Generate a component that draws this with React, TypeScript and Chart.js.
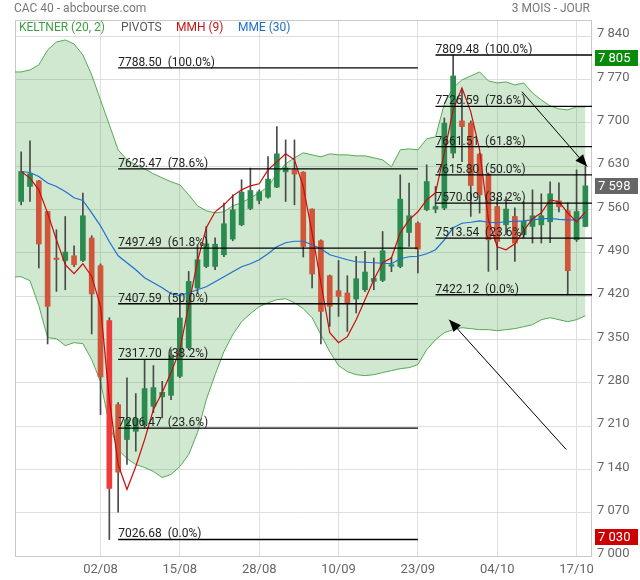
import React, { useEffect, useRef } from 'react';
import { Chart, registerables } from 'chart.js';

Chart.register(...registerables);

// ---- categories (trading days) ----
const dates = ['22/07','23/07','24/07','25/07','26/07','29/07','30/07','31/07','01/08','02/08','05/08','06/08','07/08','08/08','09/08','12/08','13/08','14/08','15/08','16/08','19/08','20/08','21/08','22/08','23/08','26/08','27/08','28/08','29/08','30/08','02/09','03/09','04/09','05/09','06/09','09/09','10/09','11/09','12/09','13/09','16/09','17/09','18/09','19/09','20/09','23/09','24/09','25/09','26/09','27/09','30/09','01/10','02/10','03/10','04/10','07/10','08/10','09/10','10/10','11/10','14/10','15/10','16/10','17/10','18/10'];
const xTickLabels = ['02/08','15/08','28/08','10/09','23/09','04/10','17/10'];
const yTicks = [7000,7070,7140,7210,7280,7350,7420,7490,7560,7630,7700,7770,7840];

// ---- OHLC ----
const opens = [7572.8,7597.0,7606.2,7556.6,7481.0,7477.5,7485.1,7477.5,7513.7,7469.0,7380.2,7244.6,7188.1,7201.5,7212.3,7241.9,7257.1,7259.6,7290.3,7336.1,7433.0,7467.8,7467.8,7486.7,7512.1,7535.1,7561.5,7574.4,7579.9,7596.0,7620.7,7623.9,7620.2,7560.5,7509.3,7452.8,7428.6,7424.9,7415.2,7430.2,7443.6,7445.3,7468.2,7467.8,7522.7,7537.9,7559.4,7560.5,7562.1,7650.9,7703.0,7699.3,7649.3,7617.0,7564.7,7535.1,7548.6,7519.0,7532.4,7535.1,7540.0,7573.9,7557.7,7510.9,7532.4];
const highs = [7653.0,7670.7,7607.0,7557.0,7527.1,7548.5,7501.3,7586.3,7517.4,7472.0,7385.0,7248.0,7287.7,7262.4,7317.3,7307.6,7282.2,7333.4,7422.0,7459.8,7502.9,7532.4,7514.2,7570.2,7583.6,7607.8,7626.7,7591.6,7645.4,7693.8,7672.3,7672.3,7621.0,7561.0,7511.0,7454.0,7477.5,7452.8,7484.0,7492.1,7481.4,7524.3,7481.9,7615.8,7602.5,7540.0,7632.0,7597.0,7707.8,7809.48,7753.0,7703.0,7651.0,7619.0,7578.2,7580.8,7562.6,7572.8,7591.6,7585.2,7604.6,7602.9,7570.7,7623.9,7629.3];
const lows = [7567.4,7572.8,7465.3,7342.6,7427.5,7430.2,7467.4,7475.4,7358.7,7228.5,7026.68,7070.8,7147.8,7169.3,7207.5,7231.7,7223.2,7252.7,7288.2,7333.4,7425.4,7465.7,7462.5,7483.5,7509.3,7533.5,7559.4,7569.0,7578.2,7594.9,7572.8,7567.4,7483.0,7433.0,7342.6,7371.0,7387.1,7362.9,7392.6,7426.9,7430.2,7443.2,7459.3,7465.7,7500.1,7457.2,7557.7,7554.5,7559.4,7643.3,7637.3,7548.6,7554.0,7459.8,7462.5,7519.0,7475.9,7514.2,7505.6,7505.6,7506.1,7556.1,7422.12,7508.2,7531.9];
const closes = [7621.2,7617.5,7504.0,7403.3,7479.0,7491.1,7470.6,7549.7,7423.3,7289.3,7109.1,7135.4,7220.4,7222.0,7270.5,7272.1,7264.5,7323.7,7384.6,7443.6,7478.7,7504.5,7503.7,7536.8,7559.4,7587.9,7590.5,7588.4,7608.9,7649.7,7627.1,7617.0,7500.1,7455.6,7395.2,7403.3,7419.4,7407.6,7448.0,7458.8,7448.5,7493.2,7469.8,7576.6,7549.7,7495.9,7605.0,7564.7,7699.3,7775.6,7693.8,7598.6,7583.6,7510.9,7508.2,7560.5,7505.6,7540.5,7549.7,7549.7,7585.2,7564.2,7460.9,7556.6,7598.0];

// ---- indicators ----
const mmh9 = [7621.2,7610.5,7591.6,7554.0,7510.9,7470.6,7456.1,7472.2,7451.7,7403.3,7252.7,7147.8,7107.4,7144.6,7188.1,7236.6,7264.0,7296.3,7333.0,7405.0,7476.0,7530.3,7556.1,7567.4,7581.9,7591.6,7598.1,7601.3,7623.9,7636.8,7649.7,7640.1,7596.5,7522.2,7441.5,7360.8,7344.7,7354.4,7381.8,7414.1,7446.4,7473.8,7481.9,7522.2,7543.2,7556.1,7575.5,7586.8,7651.4,7720.8,7756.3,7717.5,7656.2,7543.2,7499.6,7494.8,7504.5,7525.5,7544.8,7554.5,7575.5,7572.3,7554.5,7540.0,7556.1];
const mme30 = [7621.2,7619.6,7613.1,7602.5,7597.0,7588.9,7578.7,7574.4,7554.5,7533.5,7507.7,7485.1,7473.8,7462.5,7449.6,7441.5,7433.5,7423.8,7420.6,7425.4,7430.2,7435.1,7443.2,7451.2,7459.2,7467.4,7472.2,7478.7,7488.4,7499.6,7506.1,7508.5,7508.5,7502.9,7496.4,7486.7,7482.7,7478.7,7475.4,7474.6,7473.8,7473.0,7472.2,7480.3,7483.5,7484.3,7488.4,7494.8,7510.9,7530.3,7537.6,7539.2,7541.6,7539.2,7538.4,7540.0,7540.8,7541.6,7543.2,7544.8,7545.6,7544.0,7543.2,7543.2,7548.5];
// Keltner bands: first value belongs to the session before 22/07
const keltnerUpper = [7782.0,7782.1,7785.3,7793.4,7817.6,7830.5,7833.7,7827.3,7809.5,7777.3,7736.9,7696.6,7656.2,7640.1,7632.0,7625.5,7617.5,7611.0,7604.6,7599.7,7583.6,7565.8,7557.7,7554.5,7556.1,7565.8,7570.7,7578.7,7586.8,7596.5,7617.5,7633.6,7643.3,7651.4,7648.1,7644.9,7649.7,7648.1,7648.1,7646.5,7646.5,7643.3,7640.1,7628.8,7656.2,7657.8,7656.2,7674.0,7677.2,7730.4,7756.3,7769.2,7775.6,7782.1,7767.6,7764.3,7765.9,7761.1,7764.3,7748.2,7736.9,7727.2,7722.4,7720.8,7725.6,7725.6];
const keltnerLower = [7451.0,7451.2,7444.8,7404.4,7352.8,7351.2,7339.9,7344.7,7343.1,7317.3,7281.8,7212.3,7172.0,7157.5,7147.8,7143.0,7136.5,7126.8,7131.7,7144.6,7163.9,7199.4,7252.7,7293.0,7330.2,7357.6,7378.6,7391.5,7402.8,7409.2,7414.1,7415.7,7409.2,7399.6,7385.0,7357.6,7330.2,7307.6,7297.9,7293.0,7291.4,7293.0,7296.3,7299.5,7302.7,7304.3,7309.2,7333.4,7349.5,7360.8,7365.7,7368.9,7367.3,7365.7,7365.7,7364.1,7365.7,7367.3,7370.5,7373.7,7381.8,7385.0,7381.8,7378.6,7381.8,7388.3];

// ---- Fibonacci retracements (pivots) ----
const fibPercents = ['100.0%','78.6%','61.8%','50.0%','38.2%','23.6%','0.0%'];
const fibLeftLevels = [7788.50,7625.47,7497.49,7407.59,7317.70,7206.47,7026.68];
const fibRightLevels = [7809.48,7726.59,7661.51,7615.80,7570.09,7513.54,7422.12];
const fibLeftSpan = [11, 45];
const fibRightSpan = [47, 64.75];

// ---- drawn arrows: [x0, y0, x1, y1] in (session index, price) ----
const arrows = [
  [56.8, 7750.3, 64.2, 7629.2],
  [61.83, 7172.0, 48.55, 7381.8],
];

// ---- price markers on the right axis ----
const markerValues = [7805, 7598, 7030];
const markerColors = ['#0a8a0a', '#666666', '#cc0000'];

const FONT = 'Roboto, "Noto Sans", sans-serif';
const fmt = (v: number) => String(Math.round(v)).replace(/\B(?=(\d{3})+(?!\d))/g, ' ');

export default function App() {
  const ref = useRef<HTMLCanvasElement>(null);

  useEffect(() => {
    const canvas = ref.current;
    if (!canvas) return;

    const minLowIdx = lows.indexOf(Math.min(...lows));
    const bodyColors = dates.map((_, i) =>
      i === minLowIdx ? '#ee3b3b' : closes[i] >= opens[i] ? '#2b8a4f' : '#d0553a'
    );

    const datasets: any[] = [];
    datasets.push({
      type: 'line',
      data: keltnerUpper.map((v, i) => ({ x: i - 1, y: v })),
      borderColor: '#55a955',
      borderWidth: 1,
      pointRadius: 0,
      fill: '+1',
      backgroundColor: 'rgba(70,165,70,0.26)',
      order: 10,
    });
    datasets.push({
      type: 'line',
      data: keltnerLower.map((v, i) => ({ x: i - 1, y: v })),
      borderColor: '#55a955',
      borderWidth: 1,
      pointRadius: 0,
      fill: false,
      order: 10,
    });
    datasets.push({
      type: 'bar',
      data: dates.map((_, i) => ({ x: i, y: [lows[i], highs[i]] })),
      backgroundColor: '#4a4a4a',
      borderWidth: 0,
      barThickness: 1,
      grouped: false,
      order: 6,
    });
    datasets.push({
      type: 'bar',
      data: dates.map((_, i) => ({ x: i, y: [opens[i], closes[i]] })),
      backgroundColor: bodyColors,
      borderWidth: 0,
      barThickness: 5,
      minBarLength: 1.5,
      grouped: false,
      order: 5,
    });
    datasets.push({
      type: 'line',
      data: mme30.map((v, i) => ({ x: i, y: v })),
      borderColor: '#1f6fd1',
      borderWidth: 1.2,
      pointRadius: 0,
      fill: false,
      order: 3,
    });
    datasets.push({
      type: 'line',
      data: mmh9.map((v, i) => ({ x: i, y: v })),
      borderColor: '#cc0a0a',
      borderWidth: 1.2,
      pointRadius: 0,
      fill: false,
      order: 2,
    });
    const addFib = (levels: number[], span: number[]) => {
      levels.forEach((v, j) => {
        datasets.push({
          type: 'line',
          data: [{ x: span[0], y: v }, { x: span[1], y: v }],
          borderColor: '#000',
          borderWidth: 1.3,
          pointRadius: 0,
          fill: false,
          order: 1,
          fibLabel: `${v.toFixed(2)}  (${fibPercents[j]})`,
        });
      });
    };
    addFib(fibLeftLevels, fibLeftSpan);
    addFib(fibRightLevels, fibRightSpan);
    arrows.forEach((a) => {
      datasets.push({
        type: 'line',
        data: [{ x: a[0], y: a[1] }, { x: a[2], y: a[3] }],
        borderColor: '#000',
        borderWidth: 1,
        pointRadius: 0,
        fill: false,
        order: 0,
        arrow: true,
      });
    });

    const overlay = {
      id: 'overlay',
      beforeDatasetsDraw(chart: any) {
        const { ctx, chartArea: ca } = chart;
        ctx.save();
        ctx.strokeStyle = '#c9c9c9';
        ctx.lineWidth = 1;
        ctx.strokeRect(ca.left + 0.5, ca.top + 0.5, ca.right - ca.left - 1, ca.bottom - ca.top);
        ctx.restore();
      },
      afterDatasetsDraw(chart: any) {
        const ctx = chart.ctx;
        chart.data.datasets.forEach((ds: any, i: number) => {
          const meta = chart.getDatasetMeta(i);
          if (ds.fibLabel) {
            const p = meta.data[0];
            ctx.save();
            ctx.font = `12px ${FONT}`;
            ctx.fillStyle = '#222';
            ctx.textAlign = 'left';
            ctx.textBaseline = 'alphabetic';
            ctx.fillText(ds.fibLabel, p.x, p.y - 2);
            ctx.restore();
          }
          if (ds.arrow) {
            const a = meta.data[meta.data.length - 2];
            const b = meta.data[meta.data.length - 1];
            const ang = Math.atan2(b.y - a.y, b.x - a.x);
            const L = 12, W = 5;
            ctx.save();
            ctx.fillStyle = '#000';
            ctx.beginPath();
            ctx.moveTo(b.x, b.y);
            ctx.lineTo(b.x - L * Math.cos(ang) + W * Math.sin(ang), b.y - L * Math.sin(ang) - W * Math.cos(ang));
            ctx.lineTo(b.x - L * Math.cos(ang) - W * Math.sin(ang), b.y - L * Math.sin(ang) + W * Math.cos(ang));
            ctx.closePath();
            ctx.fill();
            ctx.restore();
          }
        });
      },
      afterDraw(chart: any) {
        const ctx = chart.ctx;
        const ys = chart.scales.y;
        ctx.save();
        // title
        ctx.font = `12px ${FONT}`;
        ctx.textBaseline = 'middle';
        ctx.fillStyle = '#777';
        ctx.textAlign = 'left';
        ctx.fillText('CAC 40 - abcbourse.com', 14, 8.5);
        ctx.textAlign = 'right';
        ctx.fillText('3 MOIS - JOUR', 590, 8.5);
        // legend
        ctx.textAlign = 'left';
        const legend: [string, string, number][] = [
          ['KELTNER (20, 2)', '#3f9e3f', 19],
          ['PIVOTS', '#555555', 121],
          ['MMH (9)', '#c81414', 176],
          ['MME (30)', '#1e6fcf', 238],
        ];
        legend.forEach(([t, c, x]) => {
          ctx.fillStyle = c;
          ctx.fillText(t, x, 28);
        });
        // markers
        ctx.font = `13px ${FONT}`;
        markerValues.forEach((v, k) => {
          const y = ys.getPixelForValue(v);
          ctx.fillStyle = markerColors[k];
          ctx.fillRect(595, Math.round(y) - 8, 43, 16);
          ctx.fillStyle = '#fff';
          ctx.textAlign = 'left';
          ctx.fillText(fmt(v), 598, Math.round(y) + 0.5);
        });
        ctx.restore();
      },
    };

    const chart = new Chart(canvas, {
      type: 'bar',
      data: { datasets },
      options: {
        animation: false,
        responsive: false,
        maintainAspectRatio: false,
        layout: { padding: { left: 15, top: 20, right: 0, bottom: 0 } },
        plugins: {
          legend: { display: false },
          tooltip: { enabled: false },
          filler: { drawTime: 'beforeDatasetsDraw' },
        },
        scales: {
          x: {
            type: 'linear',
            min: -0.7,
            max: 64.75,
            offset: false,
            grid: { color: '#dedede', drawTicks: false, offset: false },
            border: { display: false },
            afterBuildTicks: (s: any) => {
              s.ticks = xTickLabels.map((l) => ({ value: dates.indexOf(l) }));
            },
            afterFit: (s: any) => {
              s.height = 24;
            },
            ticks: {
              autoSkip: false,
              maxRotation: 0,
              padding: 6,
              color: '#666',
              font: { family: FONT, size: 13 },
              callback: (v: any) => dates[v as number],
            },
          },
          y: {
            type: 'linear',
            position: 'right',
            min: 7000,
            max: 7866,
            grid: { color: '#dedede', drawTicks: false },
            border: { display: false },
            afterBuildTicks: (s: any) => {
              s.ticks = yTicks.map((v) => ({ value: v }));
            },
            afterFit: (s: any) => {
              s.width = 48;
            },
            ticks: {
              padding: 5,
              labelOffset: -2,
              color: '#666',
              font: { family: FONT, size: 13 },
              callback: (v: any) => fmt(v as number),
            },
          },
        },
      } as any,
      plugins: [overlay],
    } as any);

    return () => chart.destroy();
  }, []);

  return (
    <div style={{ position: 'absolute', left: 0, top: 0, width: 640, height: 580, background: '#fff' }}>
      <canvas ref={ref} width={640} height={580} style={{ display: 'block', width: 640, height: 580 }} />
    </div>
  );
}
